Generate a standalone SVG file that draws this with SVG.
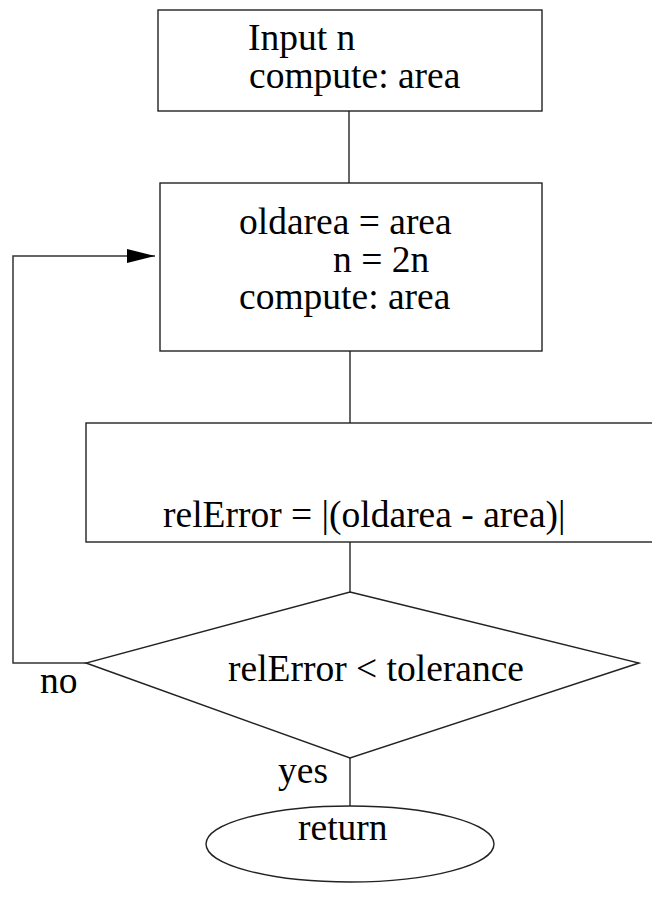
<svg xmlns="http://www.w3.org/2000/svg" width="652" height="901" viewBox="0 0 652 901">
  <style>
    .box { fill: #fff; stroke: #222; stroke-width: 1.4; }
    .conn { fill: none; stroke: #333; stroke-width: 1.5; }
    .lbl { font-family: "Liberation Serif", "Times New Roman", serif; font-size: 37.5px; fill: #000; }
  </style>
  <defs>
    <marker id="arrow" markerUnits="userSpaceOnUse" markerWidth="30" markerHeight="14" refX="28" refY="7" orient="auto">
      <path d="M0,0 L28,7 L0,14 Z" fill="#000"/>
    </marker>
  </defs>
  <rect width="652" height="901" fill="#fff"/>

  <!-- connectors -->
  <g id="connectors">
    <line class="conn" x1="349" y1="111" x2="349" y2="183"/>
    <line class="conn" x1="350" y1="351" x2="350" y2="423"/>
    <line class="conn" x1="350" y1="542" x2="350" y2="592"/>
    <line class="conn" x1="350" y1="758" x2="350" y2="806"/>
    <path class="conn" d="M86,663 H13 V256 H155" marker-end="url(#arrow)"/>
    <text class="lbl" x="40" y="693">no</text>
    <text class="lbl" x="278" y="783">yes</text>
  </g>

  <g id="input">
    <rect class="box" x="158" y="10" width="384" height="101"/>
    <text class="lbl" x="248" y="50">Input n</text>
    <text class="lbl" x="249" y="88">compute: area</text>
  </g>

  <g id="update">
    <rect class="box" x="160" y="183" width="382" height="168"/>
    <text class="lbl" x="239" y="234">oldarea = area</text>
    <text class="lbl" x="333" y="272">n = 2n</text>
    <text class="lbl" x="239" y="309">compute: area</text>
  </g>

  <g id="error">
    <rect class="box" x="86" y="423" width="580" height="119"/>
    <text class="lbl" x="163" y="527">relError = |(oldarea - area)|</text>
  </g>

  <g id="test">
    <polygon class="box" points="350,592 639,663 350,758 86,663"/>
    <text class="lbl" x="228" y="681">relError &lt; tolerance</text>
  </g>

  <g id="return">
    <ellipse class="box" cx="350" cy="844" rx="144" ry="38"/>
    <text class="lbl" x="298" y="840">return</text>
  </g>
</svg>
